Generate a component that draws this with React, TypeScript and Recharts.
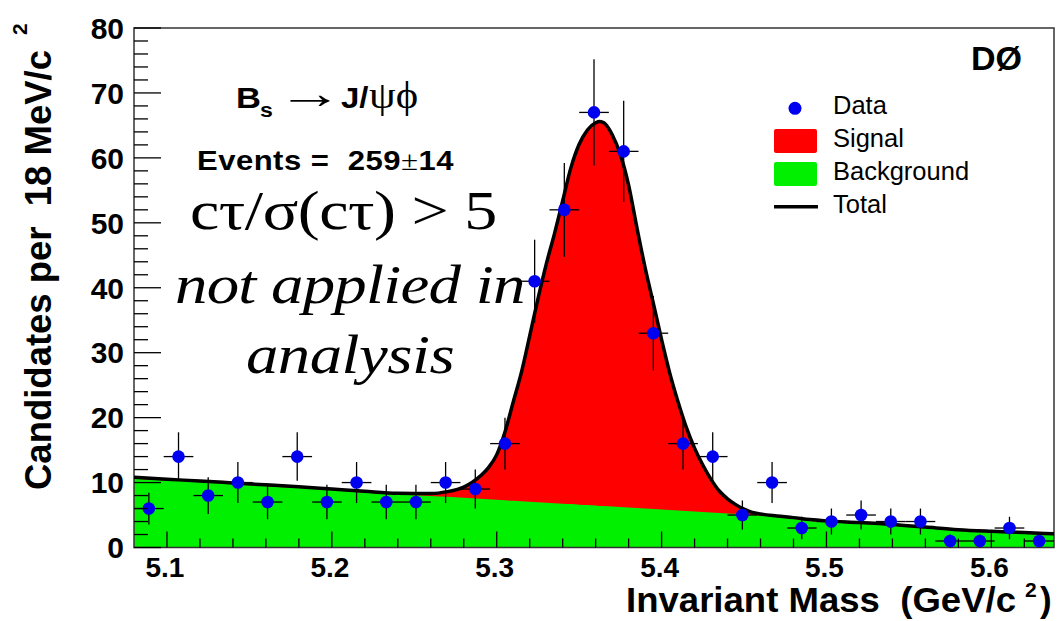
import React from 'react';
import {
  ComposedChart,
  Area,
  Line,
  Scatter,
  XAxis,
  YAxis,
  ErrorBar,
  ReferenceArea,
} from 'recharts';

const W = 1060;
const H = 621;

const SANS = "'Liberation Sans', Arial, Helvetica, sans-serif";
const SERIF = "'Liberation Serif', 'Times New Roman', Times, serif";

const DATA_BLUE = '#0000f0';
const SIGNAL_RED = '#ff0000';
const BKG_GREEN = '#00f000';

// Binned candidates (18 MeV/c^2 bins)
const binCenters = [
  5.089, 5.107, 5.125, 5.143, 5.161, 5.179, 5.197, 5.215, 5.233, 5.251, 5.269,
  5.287, 5.305, 5.323, 5.341, 5.359, 5.377, 5.395, 5.413, 5.431, 5.449, 5.467,
  5.485, 5.503, 5.521, 5.539, 5.557, 5.575, 5.593, 5.611, 5.629,
];
const binCounts = [
  6, 14, 8, 10, 7, 14, 7, 10, 7, 7, 10, 9, 16, 41, 52, 67, 61, 33, 16, 14, 5, 10,
  3, 4, 5, 4, 4, 1, 1, 3, 1,
];
const binErrors = [
  2.45, 3.74, 2.83, 3.16, 2.65, 3.74, 2.65, 3.16, 2.65, 2.65, 3.16, 3.0, 4.0,
  6.4, 7.21, 8.19, 7.81, 5.74, 4.0, 3.74, 2.24, 3.16, 1.73, 2.0, 2.24, 2.0, 2.0,
  1.0, 1.0, 1.73, 1.0,
];
const BIN_HALF_WIDTH = 0.009;

// Fit curves sampled along the mass axis
const curveMass = [
  5.08, 5.1, 5.12, 5.14, 5.16, 5.18, 5.2, 5.22, 5.24, 5.26, 5.27, 5.28, 5.285,
  5.29, 5.295, 5.3, 5.305, 5.31, 5.315, 5.32, 5.325, 5.33, 5.335, 5.34, 5.345,
  5.35, 5.355, 5.36, 5.3625, 5.365, 5.37, 5.375, 5.38, 5.385, 5.39, 5.395, 5.4,
  5.405, 5.41, 5.415, 5.42, 5.425, 5.43, 5.435, 5.44, 5.445, 5.45, 5.455, 5.46,
  5.47, 5.48, 5.49, 5.5, 5.52, 5.54, 5.56, 5.58, 5.6, 5.62, 5.638,
];
const curveTotal = [
  10.8, 10.5, 10.25, 9.95, 9.65, 9.35, 9.0, 8.65, 8.35, 8.3, 8.6, 9.3, 10.0,
  11.0, 12.3, 14.3, 17.8, 22.4, 27.0, 32.6, 38.3, 43.6, 48.3, 53.4, 58.5, 62.1,
  64.3, 65.4, 65.6, 65.4, 63.6, 60.5, 55.8, 49.3, 43.1, 37.6, 32.0, 26.8, 22.4,
  18.5, 15.3, 12.7, 10.5, 8.7, 7.5, 6.6, 5.9, 5.4, 5.15, 4.85, 4.6, 4.3, 4.1,
  3.85, 3.55, 3.15, 2.75, 2.5, 2.3, 2.1,
];
const curveBackground = [
  10.6, 10.3, 10.05, 9.75, 9.45, 9.15, 8.8, 8.45, 8.15, 7.95, 7.8, 7.66, 7.58,
  7.5, 7.43, 7.35, 7.28, 7.2, 7.13, 7.05, 6.98, 6.9, 6.83, 6.75, 6.68, 6.6,
  6.53, 6.45, 6.41, 6.38, 6.3, 6.23, 6.15, 6.08, 6.0, 5.93, 5.85, 5.78, 5.7,
  5.63, 5.55, 5.48, 5.4, 5.33, 5.25, 5.18, 5.1, 5.0, 4.9, 4.65, 4.4, 4.1, 3.9,
  3.65, 3.35, 2.95, 2.55, 2.3, 2.1, 1.9,
];

// Axis ticks and labels
const xTicks = [
  5.1, 5.12, 5.14, 5.16, 5.18, 5.2, 5.22, 5.24, 5.26, 5.28, 5.3, 5.32, 5.34,
  5.36, 5.38, 5.4, 5.42, 5.44, 5.46, 5.48, 5.5, 5.52, 5.54, 5.56, 5.58, 5.6,
  5.62,
];
const xLabels = [5.1, 5.2, 5.3, 5.4, 5.5, 5.6];
const yTicks = [
  0, 2, 4, 6, 8, 10, 12, 14, 16, 18, 20, 22, 24, 26, 28, 30, 32, 34, 36, 38, 40,
  42, 44, 46, 48, 50, 52, 54, 56, 58, 60, 62, 64, 66, 68, 70, 72, 74, 76, 78, 80,
];
const yLabels = [0, 10, 20, 30, 40, 50, 60, 70, 80];

const legendItems = [
  { label: 'Data', kind: 'marker', color: DATA_BLUE },
  { label: 'Signal', kind: 'box', color: SIGNAL_RED },
  { label: 'Background', kind: 'box', color: BKG_GREEN },
  { label: 'Total', kind: 'line', color: '#000' },
];

const curveTable = curveMass.map((m, i) => ({
  mass: m,
  total: curveTotal[i],
  background: curveBackground[i],
}));

const pointTable = binCenters.map((m, i) => ({
  mass: m,
  count: binCounts[i],
  countErr: binErrors[i],
  massErr: BIN_HALF_WIDTH,
}));

const isLabel = (list: number[], v: number) =>
  list.some((l) => Math.abs(l - v) < 1e-6);

function YTick(props: any) {
  const { x, y, payload } = props;
  const v = payload.value;
  const major = isLabel(yLabels, v);
  return (
    <g>
      <line x1={x} x2={x + (major ? 27 : 14)} y1={y} y2={y} stroke="#000" strokeWidth={1.3} />
      {major && (
        <text
          x={x - 10}
          y={y}
          dy="0.36em"
          textAnchor="end"
          fontFamily={SANS}
          fontWeight="bold"
          fontSize={30}
          fill="#000"
        >
          {v}
        </text>
      )}
    </g>
  );
}

function XTick(props: any) {
  const { x, y, payload } = props;
  const v = payload.value;
  const major = isLabel(xLabels, v);
  return (
    <g>
      <line x1={x} x2={x} y1={y} y2={y - (major ? 16 : 9)} stroke="#000" strokeWidth={1.3} />
      {major && (
        <text
          x={x - 2}
          y={y + 29}
          textAnchor="middle"
          fontFamily={SANS}
          fontWeight="bold"
          fontSize={28}
          fill="#000"
        >
          {v.toFixed(1)}
        </text>
      )}
    </g>
  );
}

function DataDot(props: any) {
  const { cx, cy } = props;
  if (cx == null || cy == null) return null;
  return <circle cx={cx} cy={cy} r={6.3} fill={DATA_BLUE} />;
}

// Text drawn with a horizontal stretch factor, anchored at its baseline start.
function Wide(props: {
  x: number;
  y: number;
  sx: number;
  children: React.ReactNode;
  [k: string]: any;
}) {
  const { x, y, sx, children, ...rest } = props;
  return (
    <g transform={`translate(${x},${y}) scale(${sx},1)`}>
      <text x={0} y={0} fill="#000" style={{ whiteSpace: 'pre' }} {...rest}>
        {children}
      </text>
    </g>
  );
}

function Annotations() {
  return (
    <svg
      width={W}
      height={H}
      style={{ position: 'absolute', left: 0, top: 0, pointerEvents: 'none' }}
    >
      {/* axis titles */}
      <text
        transform="translate(51,490) rotate(-90)"
        fontFamily={SANS}
        fontWeight="bold"
        fontSize={36}
        textLength={440}
        lengthAdjust="spacingAndGlyphs"
        style={{ whiteSpace: 'pre' }}
        fill="#000"
      >
        Candidates per  18 MeV/c
      </text>
      <text
        transform="translate(27,35) rotate(-90)"
        fontFamily={SANS}
        fontWeight="bold"
        fontSize={21}
        fill="#000"
      >
        2
      </text>
      <text
        x={626}
        y={612}
        fontFamily={SANS}
        fontWeight="bold"
        fontSize={35}
        textLength={390}
        lengthAdjust="spacingAndGlyphs"
        style={{ whiteSpace: 'pre' }}
        fill="#000"
      >
        Invariant Mass  (GeV/c
      </text>
      <text x={1025} y={597} fontFamily={SANS} fontWeight="bold" fontSize={21} fill="#000">
        2
      </text>
      <text x={1040} y={612} fontFamily={SANS} fontWeight="bold" fontSize={35} fill="#000">
        )
      </text>

      {/* experiment tag */}
      <text x={971} y={69.5} fontFamily={SANS} fontWeight="bold" fontSize={34} fill="#000">
        DØ
      </text>

      {/* decay channel and yield */}
      <Wide x={236} y={107.5} sx={1.15} fontFamily={SANS} fontWeight="bold" fontSize={30}>
        B
      </Wide>
      <Wide x={260} y={117} sx={1.1} fontFamily={SANS} fontWeight="bold" fontSize={21}>
        s
      </Wide>
      <Wide x={277} y={108} sx={1.5} fontFamily={SERIF} fontSize={44}>
        →
      </Wide>
      <Wide x={341} y={107.5} sx={1.1} fontFamily={SANS} fontWeight="bold" fontSize={30}>
        J/
      </Wide>
      <Wide x={369} y={108} sx={1.15} fontFamily={SERIF} fontSize={37}>
        ψϕ
      </Wide>
      <Wide
        x={197}
        y={170}
        sx={1.15}
        fontFamily={SANS}
        fontWeight="bold"
        fontSize={27}
        textLength={223}
      >
        Events =  259
        <tspan fontFamily={SERIF} fontWeight="normal">±</tspan>
        14
      </Wide>

      {/* cut note */}
      <Wide x={190} y={229} sx={1.2} fontFamily={SERIF} fontSize={55} textLength={256}>
        cτ/σ(cτ) &gt; 5
      </Wide>
      <Wide x={175} y={303} sx={1.2} fontFamily={SERIF} fontStyle="italic" fontSize={54} textLength={292}>
        not applied in
      </Wide>
      <Wide x={246} y={373} sx={1.2} fontFamily={SERIF} fontStyle="italic" fontSize={54} textLength={174}>
        analysis
      </Wide>

      {/* legend */}
      {legendItems.map((item, i) => {
        const cy = 108.3 + i * 32.8;
        const ty = 114.3 + i * 33;
        return (
          <g key={item.label}>
            {item.kind === 'marker' && <circle cx={795} cy={cy} r={6.5} fill={item.color} />}
            {item.kind === 'box' && (
              <rect x={774} y={cy - 12} width={43} height={24} rx={2} fill={item.color} />
            )}
            {item.kind === 'line' && (
              <line x1={774} x2={818} y1={cy} y2={cy} stroke={item.color} strokeWidth={3.5} />
            )}
            <text x={833} y={ty} fontFamily={SANS} fontSize={25.5} fill="#000">
              {item.label}
            </text>
          </g>
        );
      })}
    </svg>
  );
}

export default function App() {
  return (
    <div
      style={{
        position: 'absolute',
        left: 0,
        top: 0,
        width: W,
        height: H,
        background: '#fff',
        overflow: 'hidden',
      }}
    >
      <ComposedChart
        width={W}
        height={H}
        data={curveTable}
        margin={{ top: 28, right: 6, left: 104, bottom: 43.5 }}
      >
        <Area
          type="monotone"
          dataKey="total"
          fill={SIGNAL_RED}
          fillOpacity={1}
          stroke="none"
          isAnimationActive={false}
          dot={false}
          activeDot={false}
        />
        <Area
          type="monotone"
          dataKey="background"
          fill={BKG_GREEN}
          fillOpacity={1}
          stroke="none"
          isAnimationActive={false}
          dot={false}
          activeDot={false}
        />
        <Line
          type="monotone"
          dataKey="total"
          stroke="#000"
          strokeWidth={3.5}
          dot={false}
          activeDot={false}
          isAnimationActive={false}
        />
        <Scatter
          data={pointTable}
          dataKey="count"
          shape={<DataDot />}
          isAnimationActive={false}
        >
          <ErrorBar dataKey="countErr" direction="y" width={0} stroke="#000" strokeWidth={1.3} />
          <ErrorBar dataKey="massErr" direction="x" width={0} stroke="#000" strokeWidth={1.3} />
        </Scatter>
        <XAxis
          dataKey="mass"
          type="number"
          domain={[5.08, 5.638]}
          allowDataOverflow
          ticks={xTicks}
          interval={0}
          tick={<XTick />}
          tickLine={false}
          axisLine={false}
          tickSize={0}
          tickMargin={0}
          height={30}
        />
        <YAxis
          type="number"
          domain={[0, 80]}
          allowDataOverflow
          ticks={yTicks}
          interval={0}
          tick={<YTick />}
          tickLine={false}
          axisLine={false}
          tickSize={0}
          tickMargin={0}
          width={30}
        />
        <ReferenceArea
          x1={5.08}
          x2={5.638}
          y1={0}
          y2={80}
          fill="none"
          fillOpacity={0}
          stroke="#333"
          strokeWidth={1.5}
          strokeOpacity={1}
        />
      </ComposedChart>
      <Annotations />
    </div>
  );
}
